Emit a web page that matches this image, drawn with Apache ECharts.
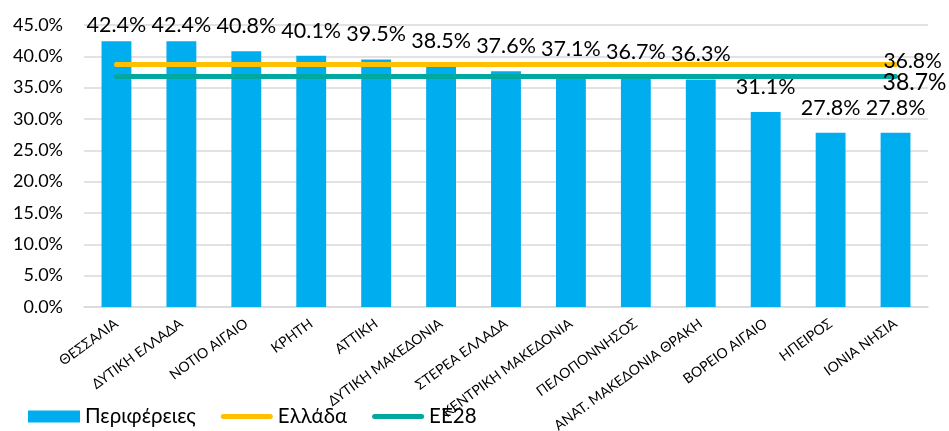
<!DOCTYPE html>
<html>
<head>
<meta charset="utf-8">
<script src="https://cdn.jsdelivr.net/npm/echarts@6/dist/echarts.min.js"></script>
<style>html,body{margin:0;padding:0;background:#fff}#c{width:949px;height:431px}</style>
</head>
<body>
<div id="c"></div>
<script>
const categories = ['ΘΕΣΣΑΛΙΑ','ΔΥΤΙΚΗ ΕΛΛΑΔΑ','ΝΟΤΙΟ ΑΙΓΑΙΟ','ΚΡΗΤΗ','ΑΤΤΙΚΗ','ΔΥΤΙΚΗ ΜΑΚΕΔΟΝΙΑ','ΣΤΕΡΕΑ ΕΛΛΑΔΑ','ΚΕΝΤΡΙΚΗ ΜΑΚΕΔΟΝΙΑ','ΠΕΛΟΠΟΝΝΗΣΟΣ','ΑΝΑΤ. ΜΑΚΕΔΟΝΙΑ ΘΡΑΚΗ','ΒΟΡΕΙΟ ΑΙΓΑΙΟ','ΗΠΕΙΡΟΣ','ΙΟΝΙΑ ΝΗΣΙΑ'];
const regionValues = [42.4, 42.4, 40.8, 40.1, 39.5, 38.5, 37.6, 37.1, 36.7, 36.3, 31.1, 27.8, 27.8];
const greeceValue = 38.7;
const eu28Value = 36.8;
const seriesNames = ['Περιφέρειες', 'Ελλάδα', 'ΕΕ28'];

const FONT = 'Lato';
const chart = echarts.init(document.getElementById('c'));
const pct = v => Number(v).toFixed(1) + '%';
const lineIcon = 'path://M2.5,0 L49.5,0 A2.5,2.5 0 0 1 49.5,5 L2.5,5 A2.5,2.5 0 0 1 2.5,0 Z';

chart.setOption({
  animation: false,
  textStyle: { fontFamily: FONT, color: '#000' },
  grid: { left: 84, right: 21, top: 25, bottom: 124, containLabel: false, outerBoundsMode: 'none' },
  legend: {
    left: 28, top: 406, padding: 0,
    itemGap: 25, itemWidth: 52, itemHeight: 12,
    textStyle: { fontFamily: FONT, fontSize: 20.5, color: '#000' },
    data: [
      { name: seriesNames[0], icon: 'rect' },
      { name: seriesNames[1], icon: lineIcon, itemStyle: { color: '#FFC000' } },
      { name: seriesNames[2], icon: lineIcon, itemStyle: { color: '#00A89F' } }
    ]
  },
  xAxis: {
    type: 'category',
    data: categories,
    axisTick: { show: false },
    axisLine: { lineStyle: { color: '#D9D9D9', width: 1.5 } },
    axisLabel: { interval: 0, rotate: 36, fontSize: 14, color: '#000', margin: 15, fontFamily: FONT }
  },
  yAxis: {
    type: 'value', min: 0, max: 45, interval: 5,
    axisLine: { show: false }, axisTick: { show: false },
    splitLine: { lineStyle: { color: '#D9D9D9', width: 1.5 } },
    axisLabel: { formatter: pct, fontSize: 18, color: '#000', margin: 21, fontFamily: FONT }
  },
  series: [
    {
      name: seriesNames[0], type: 'bar', barWidth: '46%',
      itemStyle: { color: '#00AEEF' },
      data: regionValues.map(v => ({ value: v, label: { distance: v > 42 ? 5 : 14 } })),
      label: { show: true, position: 'top', formatter: p => pct(p.value), fontSize: 21.5, color: '#000', fontFamily: FONT }
    },
    {
      name: seriesNames[1], type: 'line', showSymbol: false, symbol: 'none',
      lineStyle: { color: '#FFC000', width: 5, cap: 'round' },
      itemStyle: { color: '#FFC000' },
      data: categories.map(() => greeceValue),
      endLabel: { show: true, formatter: p => pct(p.value), fontSize: 23, color: '#000', distance: 0, offset: [-13, 18], fontFamily: FONT },
      z: 3
    },
    {
      name: seriesNames[2], type: 'line', showSymbol: false, symbol: 'none',
      lineStyle: { color: '#00A89F', width: 5, cap: 'round' },
      itemStyle: { color: '#00A89F' },
      data: categories.map(() => eu28Value),
      endLabel: { show: true, formatter: p => pct(p.value), fontSize: 21, color: '#000', distance: 0, offset: [-12, -15], fontFamily: FONT },
      z: 3
    }
  ]
});
</script>
</body>
</html>
